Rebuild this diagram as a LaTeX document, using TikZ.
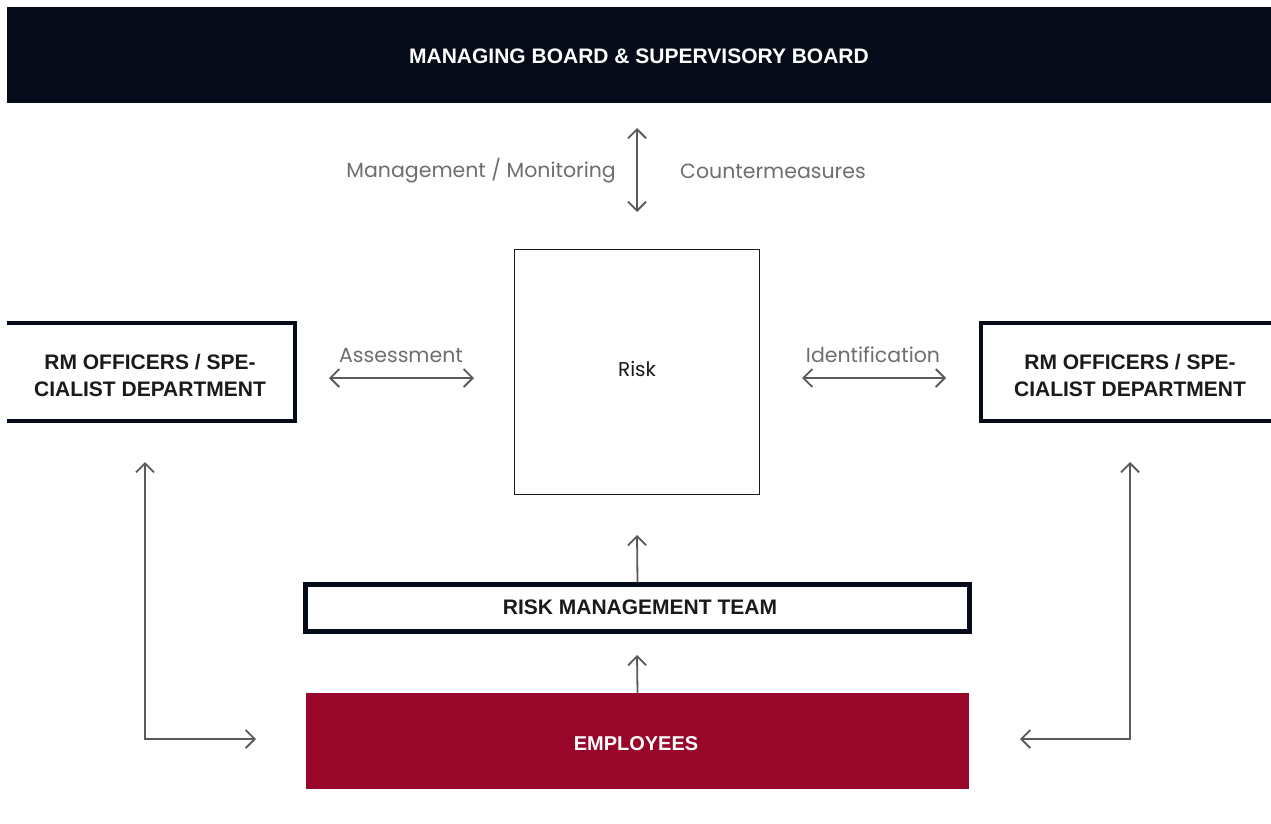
\documentclass[tikz,border=0pt]{standalone}
\usepackage{fontspec}
\setmainfont{Poppins}
\newfontfamily\headfont{Liberation Sans}
\usetikzlibrary{arrows.meta}
\definecolor{navy}{HTML}{050B19}
\definecolor{wine}{HTML}{98062A}
\definecolor{arrowgray}{HTML}{5A5A5A}
\definecolor{labelgray}{HTML}{6E6E6E}
\definecolor{ink}{HTML}{1A1A1A}
\begin{document}
\begin{tikzpicture}[x=1pt,y=-1pt,
  head/.style={font=\headfont\bfseries\fontsize{21}{27}\selectfont, text=ink, align=center},
  lbl/.style={font=\fontsize{20.5}{24}\selectfont, text=labelgray, inner sep=0},
  conn/.style={draw=arrowgray, line width=1.8pt, -{Straight Barb[length=9pt,width=18pt]}},
  dconn/.style={draw=arrowgray, line width=1.8pt, {Straight Barb[length=9pt,width=18pt]}-{Straight Barb[length=9pt,width=18pt]}},
  frame/.style={draw=navy, line width=4.5pt},
  plain/.style={inner sep=0}
]
\useasboundingbox (0,0) rectangle (1271,823);
\fill[white] (0,0) rectangle (1271,823);

% top board
\node[plain, fill=navy, minimum width=1264pt, minimum height=96pt, anchor=north west] (board) at (7,7) {};
\node[head, text=white] (boardtxt) at (639,56) {MANAGING BOARD \& SUPERVISORY BOARD};

% risk
\node[plain, draw=ink, line width=1.5pt, minimum width=245pt, minimum height=245pt] (risk) at (637,372) {};
\node[plain, font=\fontsize{20}{24}\selectfont, text=ink] (risktxt) at (637,369) {Risk};

% left RM box (open on the left)
\node[plain, minimum width=288pt, minimum height=98pt] (rml) at (151,372) {};
\draw[frame] (rml.north west) -- (rml.north east) -- (rml.south east) -- (rml.south west);
\node[head] (rmltxt) at (150,375) {RM OFFICERS / SPE-\\CIALIST DEPARTMENT};

% right RM box (open on the right)
\node[plain, minimum width=290pt, minimum height=98pt] (rmr) at (1126,372) {};
\draw[frame] (rmr.north east) -- (rmr.north west) -- (rmr.south west) -- (rmr.south east);
\node[head] (rmrtxt) at (1130,375) {RM OFFICERS / SPE-\\CIALIST DEPARTMENT};

% risk management team
\node[plain, frame, minimum width=664pt, minimum height=47pt] (rmt) at (637.5,608) {};
\node[head] (rmttxt) at (640,607) {RISK MANAGEMENT TEAM};

% employees
\node[plain, fill=wine, minimum width=663pt, minimum height=96pt] (emp) at (637.5,741) {};
\node[head, text=white, font=\headfont\bfseries\fontsize{20}{24}\selectfont] (emptxt) at (636,744) {EMPLOYEES};

% labels
\node[lbl, anchor=east] (mm) at (616,171) {Management / Monitoring};
\node[lbl, anchor=west] (cm) at (680,171) {Countermeasures};
\node[lbl] (as) at (401,355) {Assessment};
\node[lbl] (id) at (873,355) {Identification};

% coordinates
\coordinate (vt) at (637,128);
\coordinate (vb) at (637,212);
\coordinate (al) at (329,378);
\coordinate (ar) at (474,378);
\coordinate (il) at (802,378);
\coordinate (ir) at (946,378);
\coordinate (riskup) at (637,535);
\coordinate (rmtup) at (637,655);
\coordinate (lt) at (145,462);
\coordinate (lc) at (145,739);
\coordinate (lr) at (256,739);
\coordinate (rt) at (1130,462);
\coordinate (rc) at (1130,739);
\coordinate (rl) at (1020,739);

% connectors
\draw[dconn] (vt) -- (vb);
\draw[dconn] (al) -- (ar);
\draw[dconn] (il) -- (ir);
\draw[conn] (rmt.north) -- (riskup);
\draw[conn] (emp.north) -- (rmtup);
\draw[dconn] (lt) -- (lc) -- (lr);
\draw[dconn] (rt) -- (rc) -- (rl);
\end{tikzpicture}
\end{document}
